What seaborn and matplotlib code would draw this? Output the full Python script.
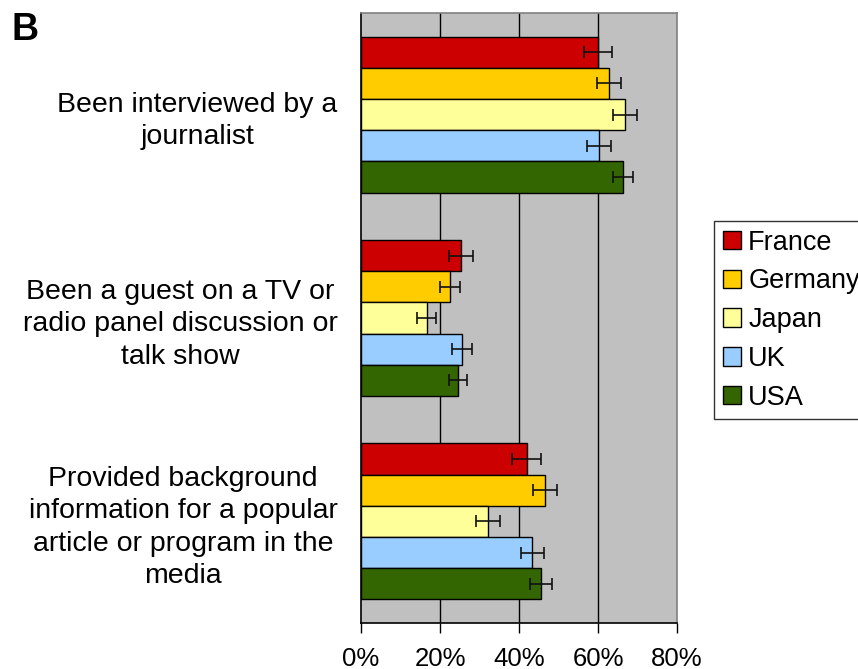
import matplotlib
matplotlib.use("Agg")
import matplotlib.pyplot as plt
import seaborn as sns
import pandas as pd
import numpy as np

categories = [
    "Been interviewed by a\njournalist",
    "Been a guest on a TV or\nradio panel discussion or\ntalk show",
    "Provided background\ninformation for a popular\narticle or program in the\nmedia",
]
countries = ["France", "Germany", "Japan", "UK", "USA"]
france = [60.0, 25.3, 41.9]
germany = [62.8, 22.5, 46.6]
japan = [66.8, 16.7, 32.1]
uk = [60.3, 25.6, 43.4]
usa = [66.4, 24.5, 45.5]
france_err = [3.6, 3.1, 3.6]
germany_err = [3.0, 2.5, 3.0]
japan_err = [3.1, 2.4, 3.1]
uk_err = [3.0, 2.6, 3.0]
usa_err = [2.5, 2.3, 2.8]
colors = ["#CC0000", "#FFCC00", "#FFFF99", "#99CCFF", "#336600"]
xticks = [0, 20, 40, 60, 80]
xticklabels = ["0%", "20%", "40%", "60%", "80%"]

values = [france, germany, japan, uk, usa]
errors = [france_err, germany_err, japan_err, uk_err, usa_err]

rows = []
for c, vals in zip(countries, values):
    for cat, v in zip(categories, vals):
        rows.append({"Category": cat, "Country": c, "Value": v})
df = pd.DataFrame(rows)

sns.set_theme(style="white")
plt.rcParams["font.family"] = ["Liberation Sans", "DejaVu Sans"]
plt.rcParams["text.color"] = "black"
plt.rcParams["xtick.color"] = "black"
plt.rcParams["ytick.color"] = "black"
plt.rcParams["axes.labelcolor"] = "black"

fig = plt.figure(figsize=(8.58, 6.69), dpi=100)
ax = fig.add_axes([361/858, 1 - 623/669, (677 - 361)/858, (623 - 13)/669])

sns.barplot(data=df, y="Category", x="Value", hue="Country", order=categories,
            hue_order=countries, palette=colors, orient="h", width=0.767,
            errorbar=None, edgecolor="black", linewidth=1.0, saturation=1,
            ax=ax, zorder=3)

for cont, errs in zip(ax.containers, errors):
    for patch, e in zip(cont.patches, errs):
        yc = patch.get_y() + patch.get_height() / 2
        ax.errorbar(patch.get_width(), yc, xerr=e, fmt="none", ecolor="#111111",
                    elinewidth=1.2, capsize=4, capthick=1.2, zorder=5)

ax.set_facecolor("#C0C0C0")
ax.set_xlim(0, 80)
ax.set_ylim(2.5, -0.5)
ax.set_xticks(xticks)
ax.set_xticklabels(xticklabels, fontsize=18.5)
ax.set_xlabel("")
ax.set_ylabel("")
for x in [20, 40, 60]:
    ax.axvline(x, color="#000000", lw=1.0, zorder=1)
ax.tick_params(axis="x", direction="out", length=7, width=1, color="black",
               pad=10, bottom=True, labelcolor="black")
ax.tick_params(axis="y", length=0, pad=17, labelcolor="black")
for lbl in ax.get_yticklabels():
    lbl.set_fontsize(20.5)
    lbl.set_multialignment("center")
    lbl.set_linespacing(1.32)

for s in ["top", "right"]:
    ax.spines[s].set_color("#808080")
    ax.spines[s].set_linewidth(1.2)
for s in ["left", "bottom"]:
    ax.spines[s].set_color("black")
    ax.spines[s].set_linewidth(1.2)
for s in ax.spines.values():
    s.set_visible(True)

handles, labels = ax.get_legend_handles_labels()
if ax.get_legend() is not None:
    ax.get_legend().remove()
leg = fig.legend(handles, labels, loc="upper left",
                 bbox_to_anchor=(714/858, 1 - 221/669),
                 bbox_transform=fig.transFigure, frameon=True, fancybox=False,
                 edgecolor="black", fontsize=19.5, handlelength=0.68,
                 handleheight=0.68, handletextpad=0.26, labelspacing=0.47,
                 borderpad=0.32, borderaxespad=0)
leg.get_frame().set_linewidth(1.0)

fig.text(12/858, 1 - 12/669, "B", fontsize=27, fontweight="bold", va="top",
         ha="left", color="black")

fig.savefig("out.png", dpi=100)
